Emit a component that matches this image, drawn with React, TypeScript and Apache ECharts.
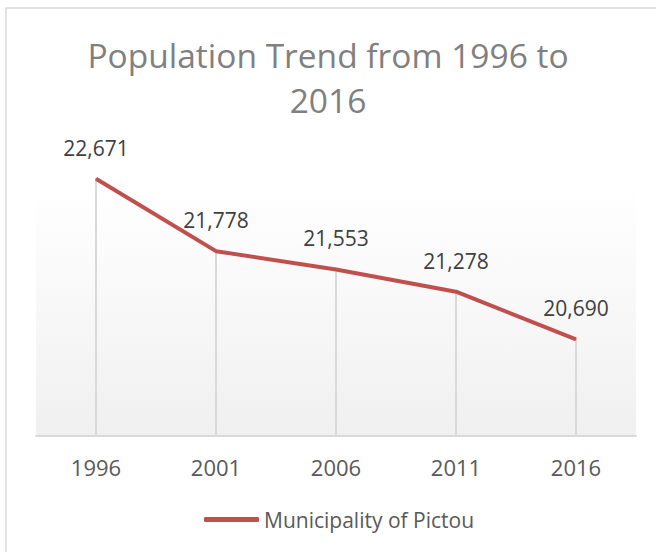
import React, { useEffect, useRef } from "react";
import * as echarts from "echarts";

const years = ["1996", "2001", "2006", "2011", "2016"];
const population = [22671, 21778, 21553, 21278, 20690];
const seriesName = "Municipality of Pictou";
const titleText = "Population Trend from 1996 to\n2016";

export default function App() {
  const ref = useRef<HTMLDivElement>(null);
  useEffect(() => {
    if (!ref.current) return;
    const chart = echarts.init(ref.current, null, { renderer: "svg" });
    const font = "'Open Sans', 'Noto Sans', sans-serif";
    chart.setOption({
      animation: false,
      backgroundColor: "#ffffff",
      title: {
        text: titleText,
        left: "center",
        top: 27,
        textStyle: {
          fontFamily: font,
          fontSize: 33.5,
          fontWeight: "normal",
          color: "#808080",
          lineHeight: 45,
        },
      },
      graphic: [
        {
          type: "rect",
          z: -10,
          shape: { x: 6, y: 8, width: 700, height: 600 },
          style: { fill: "none", stroke: "#d9d9d9", lineWidth: 1.5 },
        },
        {
          type: "rect",
          z: -5,
          shape: { x: 36, y: 152, width: 600, height: 284 },
          style: {
            fill: new echarts.graphic.LinearGradient(0, 0, 0, 1, [
              { offset: 0, color: "#ffffff" },
              { offset: 0.12, color: "#ffffff" },
              { offset: 1, color: "#f0f0f0" },
            ]),
          },
        },
      ],
      legend: {
        data: [seriesName],
        left: 199,
        top: 504,
        icon: "roundRect",
        itemWidth: 55,
        itemHeight: 5,
        itemGap: 10,
        textStyle: { fontFamily: font, fontSize: 21, color: "#595959" },
      },
      grid: { left: 36, right: 20, top: 152, bottom: 116 },
      xAxis: {
        type: "category",
        data: years,
        boundaryGap: true,
        axisLine: { lineStyle: { color: "#d9d9d9", width: 2 } },
        axisTick: { show: false },
        axisLabel: { fontFamily: font, fontSize: 22, color: "#595959", margin: 20 },
        splitLine: { show: false },
      },
      yAxis: {
        type: "value",
        min: 19500,
        max: 23000,
        show: false,
        splitLine: { show: false },
      },
      series: [
        {
          name: "drop",
          type: "bar",
          data: population,
          barWidth: 2,
          itemStyle: { color: "#d9d9d9" },
          silent: true,
          z: 1,
        },
        {
          name: seriesName,
          type: "line",
          data: population,
          symbol: "circle",
          symbolSize: 1,
          showSymbol: true,
          lineStyle: { color: "#c0504d", width: 4 },
          itemStyle: { color: "#c0504d" },
          z: 3,
          label: {
            show: true,
            position: "top",
            distance: 20,
            fontFamily: font,
            fontSize: 21,
            color: "#404040",
            formatter: (p: any) => Number(p.value).toLocaleString("en-US"),
          },
        },
      ],
    });
    return () => chart.dispose();
  }, []);
  return (
    <div
      ref={ref}
      style={{ position: "fixed", left: 0, top: 0, width: 656, height: 552 }}
    />
  );
}
